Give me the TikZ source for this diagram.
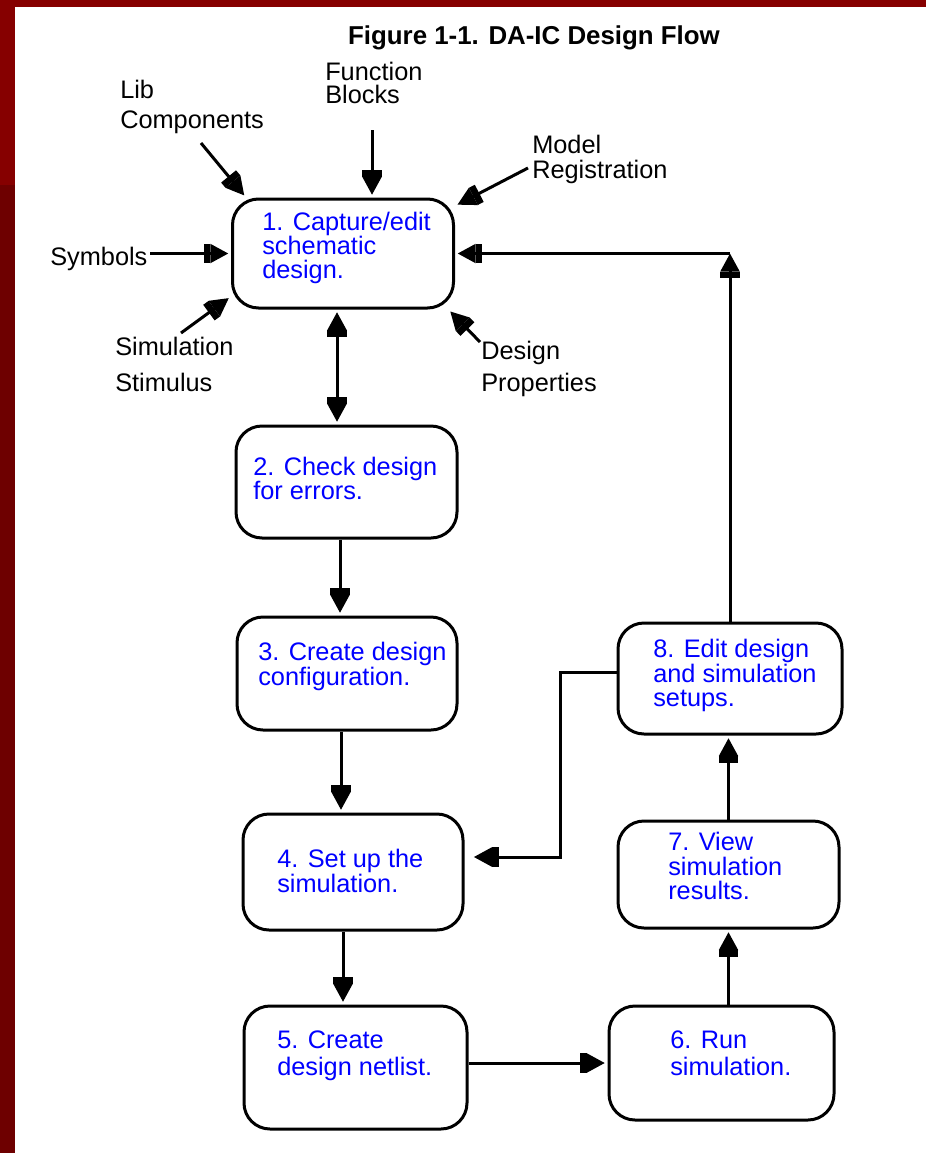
\documentclass[tikz,border=0pt]{standalone}
\usepackage{fontspec}
\setmainfont{Liberation Sans}
\usetikzlibrary{arrows.meta}

\definecolor{framered}{HTML}{860000}
\definecolor{framedark}{HTML}{6E0000}
\definecolor{stepblue}{HTML}{0000FF}

\tikzset{
  fatend/.tip={Rectangle[length=5pt,width=14.5pt,sep=0pt]Triangle[length=13.5pt,width=14pt,sep=0pt]},
  flowbox/.style={draw, line width=2.25pt, rounded corners=19.5pt, inner sep=0pt},
  steptext/.style={anchor=base west, inner sep=0pt, text=stepblue, font=\fontsize{19}{23}\selectfont},
  labeltext/.style={anchor=base west, inner sep=0pt, text=black, font=\fontsize{19}{23}\selectfont},
  link/.style={line width=2.25pt, -{fatend}, shorten >=2pt},
}

\begin{document}
\begin{tikzpicture}[x=0.75pt,y=-0.75pt]
\useasboundingbox (0,0) rectangle (926,1153);

% frame bands
\fill[framered] (0,0) rectangle (926,7);
\fill[framered] (0,0) rectangle (15,185);
\fill[framedark] (0,185) rectangle (15,1153);

% title
\node[anchor=base, inner sep=0pt, font=\fontsize{19.4}{23}\selectfont\bfseries] (title) at (534,44) {Figure 1-1. DA-IC Design Flow};

% process steps
\node[flowbox, minimum width=165.75pt, minimum height=81.75pt] (b1) at (343,253.5) {};
\node[flowbox, minimum width=165.75pt, minimum height=84pt]    (b2) at (346.5,482) {};
\node[flowbox, minimum width=165pt,    minimum height=84.75pt] (b3) at (347,673.5) {};
\node[flowbox, minimum width=165pt,    minimum height=87pt]    (b4) at (353,872) {};
\node[flowbox, minimum width=167.25pt, minimum height=92.25pt] (b5) at (355.5,1067.5) {};
\node[flowbox, minimum width=168.75pt, minimum height=85.5pt]  (b6) at (721.5,1063) {};
\node[flowbox, minimum width=165.75pt, minimum height=80.25pt] (b7) at (728.5,874.5) {};
\node[flowbox, minimum width=168pt,    minimum height=83.25pt] (b8) at (730,678.5) {};

% step texts
\node[steptext] (t1a) at (262,230) {1. Capture/edit};
\node[steptext] (t1b) at (262,254) {schematic};
\node[steptext] (t1c) at (262,278) {design.};
\node[steptext] (t2a) at (253,475) {2. Check design};
\node[steptext] (t2b) at (253,499) {for errors.};
\node[steptext] (t3a) at (258,660) {3. Create design};
\node[steptext] (t3b) at (258,685) {configuration.};
\node[steptext] (t4a) at (277,867) {4. Set up the};
\node[steptext] (t4b) at (277,892) {simulation.};
\node[steptext] (t5a) at (277,1048) {5. Create};
\node[steptext] (t5b) at (277,1075) {design netlist.};
\node[steptext] (t6a) at (670,1048) {6. Run};
\node[steptext] (t6b) at (670,1075) {simulation.};
\node[steptext] (t7a) at (668,850) {7. View};
\node[steptext] (t7b) at (668,875) {simulation};
\node[steptext] (t7c) at (668,899) {results.};
\node[steptext] (t8a) at (653,657) {8. Edit design};
\node[steptext] (t8b) at (653,682) {and simulation};
\node[steptext] (t8c) at (653,706) {setups.};

% input labels
\node[labeltext] (fn)   at (325,80)  {Function};
\node[labeltext] (fnb)  at (325,103) {Blocks};
\node[labeltext] (lib)  at (120,98)  {Lib};
\node[labeltext] (libc) at (120,128) {Components};
\node[labeltext] (mod)  at (532,153) {Model};
\node[labeltext] (modr) at (532,178) {Registration};
\node[labeltext] (sym)  at (50,265)  {Symbols};
\node[labeltext] (sim)  at (115,355) {Simulation};
\node[labeltext] (sims) at (115,391) {Stimulus};
\node[labeltext] (des)  at (481,359) {Design};
\node[labeltext] (desp) at (481,391) {Properties};

% input arrows into step 1
\coordinate (libend)  at (201,143);
\coordinate (fbend)   at (372,130);
\coordinate (modend)  at (528,168);
\coordinate (simend)  at (181,333);
\coordinate (propend) at (480,342);
\draw[link] (libend) -- (b1.150);
\draw[link] (fbend) -- (b1.north -| fbend);
\draw[link] (modend) -- (b1.23);
\draw[link, shorten <=2pt] (sym.east |- b1.west) -- (b1.west);
\draw[link] (simend) -- (b1.201);
\draw[link] (propend) -- (b1.332);

% main flow
\coordinate (v12) at (337,0);
\coordinate (v23) at (340,0);
\coordinate (v34) at (341,0);
\coordinate (v45) at (343,0);
\coordinate (m12) at (337,368);
\draw[link] (m12) -- (b1.south -| v12);
\draw[link] (m12) -- (b2.north -| v12);
\draw[link] (b2.south -| v23) -- (b3.north -| v23);
\draw[link] (b3.south -| v34) -- (b4.north -| v34);
\draw[link] (b4.south -| v45) -- (b5.north -| v45);
\draw[link] (b5.east |- b6.west) -- (b6.west);
\draw[link] (b6.north -| b7.south) -- (b7.south);
\draw[link] (b7.north) -- (b8.south -| b7.north);

% loop back to step 1
\coordinate (turn) at (b8.north |- b1.east);
\draw[link, shorten >=0pt] (b8.north) -- (turn);
\draw[link] (turn) -- (b1.east);

% loop back to step 4
\coordinate (k1) at (560,672);
\coordinate (k2) at (560,857);
\draw[link, shorten >=7pt] (b8.west |- k1) -- (k1) -- (k2) -- (b4.east |- k2);
\end{tikzpicture}
\end{document}
